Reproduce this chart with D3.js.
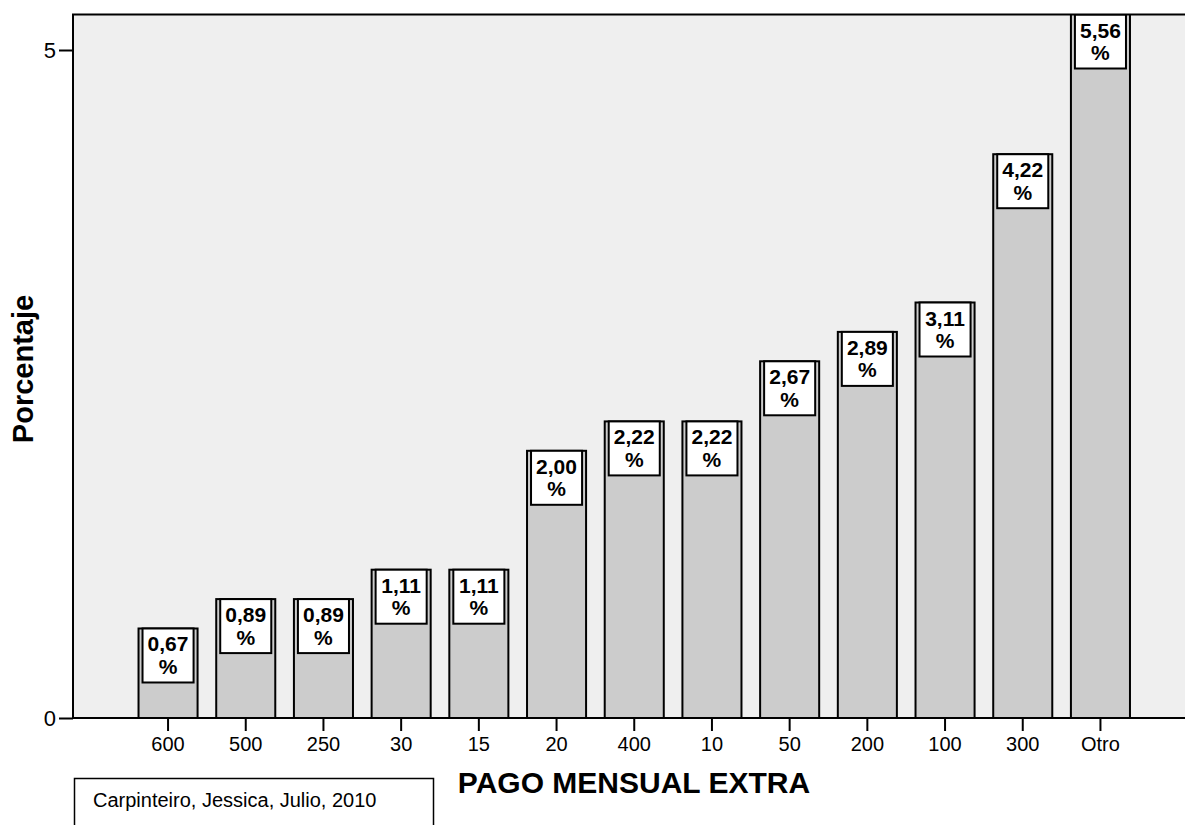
<!DOCTYPE html>
<html>
<head>
<meta charset="utf-8">
<script src="https://cdn.jsdelivr.net/npm/d3@7"></script>
<style>
  html, body { margin: 0; padding: 0; background: #ffffff; }
  svg { display: block; }
  text { font-family: Arial, "Liberation Sans", sans-serif; fill: #000; }
</style>
</head>
<body>
<svg id="chart" width="1185" height="825"></svg>
<script>
// Monthly extra payment categories and their percentages
const categories = ["600", "500", "250", "30", "15", "20", "400", "10", "50", "200", "100", "300", "Otro"];
const percentages = [0.67, 0.89, 0.89, 1.11, 1.11, 2.00, 2.22, 2.22, 2.67, 2.89, 3.11, 4.22, 5.56];
const yTicks = [0, 5];
const xTitle = "PAGO MENSUAL EXTRA";
const yTitle = "Porcentaje";
const footnote = "Carpinteiro, Jessica, Julio, 2010";

const svg = d3.select("#chart");

// Plot frame (extends past the right edge of the page)
const frame = { left: 73, top: 14.5, right: 1195, bottom: 718 };

const x = d3.scaleBand()
  .domain(categories)
  .range([129.2, 1139.3])
  .paddingInner(0.24)
  .paddingOuter(0.12);

const y = d3.scaleLinear()
  .domain([0, 5])
  .range([frame.bottom, 50]);

svg.append("defs").append("clipPath").attr("id", "plotClip")
  .append("rect")
  .attr("x", frame.left).attr("y", frame.top)
  .attr("width", frame.right - frame.left)
  .attr("height", frame.bottom - frame.top);

// Background
svg.append("rect")
  .attr("x", frame.left).attr("y", frame.top)
  .attr("width", frame.right - frame.left)
  .attr("height", frame.bottom - frame.top)
  .attr("fill", "#efefef");

const plot = svg.append("g").attr("clip-path", "url(#plotClip)");

// Bars
plot.selectAll("rect.bar")
  .data(categories.map((c, i) => ({ c, v: percentages[i] })))
  .join("rect")
  .attr("class", "bar")
  .attr("x", d => x(d.c))
  .attr("y", d => y(d.v))
  .attr("width", x.bandwidth())
  .attr("height", d => y(0) - y(d.v))
  .attr("fill", "#cccccc")
  .attr("stroke", "#000")
  .attr("stroke-width", 2);

// Value labels inside boxes at the top of each bar
const fmt = v => d3.format(".2f")(v).replace(".", ",");
const boxInset = 4, boxH = 54;
const labels = plot.selectAll("g.lab")
  .data(categories.map((c, i) => ({ c, v: percentages[i] })))
  .join("g")
  .attr("class", "lab")
  .attr("transform", d => `translate(${x(d.c)},${Math.max(y(d.v), frame.top)})`);

labels.append("rect")
  .attr("x", boxInset)
  .attr("y", 0)
  .attr("width", x.bandwidth() - 2 * boxInset)
  .attr("height", boxH)
  .attr("fill", "#ffffff")
  .attr("stroke", "#000")
  .attr("stroke-width", 2);

labels.append("text")
  .attr("x", x.bandwidth() / 2)
  .attr("y", 23)
  .attr("text-anchor", "middle")
  .attr("font-size", "21px")
  .attr("font-weight", "bold")
  .text(d => fmt(d.v));

labels.append("text")
  .attr("x", x.bandwidth() / 2)
  .attr("y", 45.5)
  .attr("text-anchor", "middle")
  .attr("font-size", "21px")
  .attr("font-weight", "bold")
  .text("%");

// Frame outline
svg.append("rect")
  .attr("x", frame.left).attr("y", frame.top)
  .attr("width", frame.right - frame.left)
  .attr("height", frame.bottom - frame.top)
  .attr("fill", "none")
  .attr("stroke", "#000")
  .attr("stroke-width", 2);

// X axis
const xAxis = svg.append("g")
  .attr("transform", `translate(0,${frame.bottom})`)
  .call(d3.axisBottom(x).tickSize(13).tickPadding(6));
xAxis.select(".domain").remove();
xAxis.selectAll(".tick line").attr("stroke", "#000").attr("stroke-width", 2);
xAxis.selectAll(".tick text")
  .attr("font-size", "20px")
  .attr("font-family", "Arial, 'Liberation Sans', sans-serif")
  .attr("fill", "#000");

// Y axis
const yAxis = svg.append("g")
  .attr("transform", `translate(${frame.left},0)`)
  .call(d3.axisLeft(y).tickValues(yTicks).tickSize(14).tickPadding(3).tickFormat(d3.format("d")));
yAxis.select(".domain").remove();
yAxis.selectAll(".tick line").attr("stroke", "#000").attr("stroke-width", 2);
yAxis.selectAll(".tick text")
  .attr("font-size", "22px")
  .attr("font-family", "Arial, 'Liberation Sans', sans-serif")
  .attr("fill", "#000");

// Axis titles
svg.append("text")
  .attr("x", 634)
  .attr("y", 793)
  .attr("text-anchor", "middle")
  .attr("font-size", "30px")
  .attr("font-weight", "bold")
  .text(xTitle);

svg.append("text")
  .attr("transform", "translate(33,369) rotate(-90)")
  .attr("text-anchor", "middle")
  .attr("font-size", "29px")
  .attr("font-weight", "bold")
  .text(yTitle);

// Footnote box
svg.append("rect")
  .attr("x", 74.5).attr("y", 778.5)
  .attr("width", 359).attr("height", 60)
  .attr("fill", "#ffffff")
  .attr("stroke", "#000")
  .attr("stroke-width", 1.5);

svg.append("text")
  .attr("x", 93)
  .attr("y", 807)
  .attr("font-size", "20px")
  .text(footnote);
</script>
</body>
</html>
